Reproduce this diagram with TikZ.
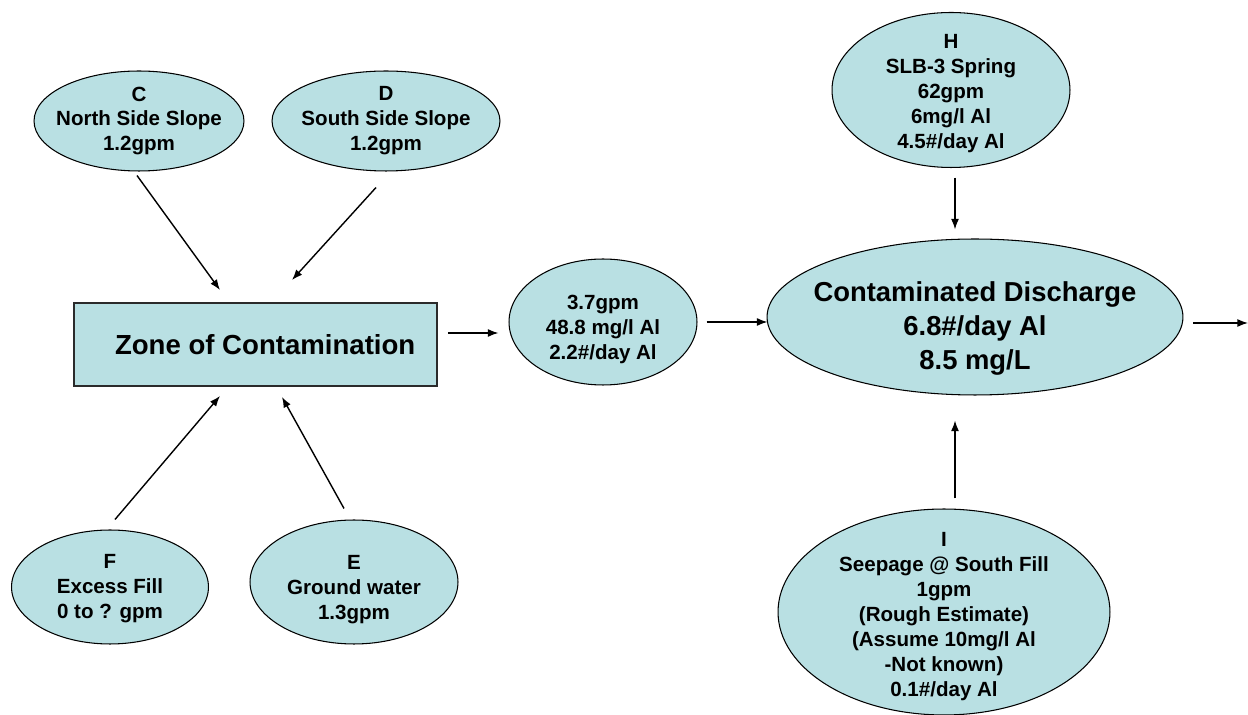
\documentclass[tikz,border=0pt]{standalone}
\usepackage{fontspec}
\setmainfont{Liberation Sans}
\usetikzlibrary{shapes.geometric,arrows.meta,calc}
\definecolor{poolBlue}{HTML}{B9E0E3}
\definecolor{edgeGray}{HTML}{2B2B2B}

\begin{document}
\begin{tikzpicture}[x=0.02cm, y=-0.02cm,
    src/.style={ellipse, draw, line width=0.6pt, fill=poolBlue, inner sep=-3cm,
                align=center, font=\bfseries\fontsize{11.7}{14.2}\selectfont},
    bigsrc/.style={src, font=\bfseries\fontsize{15.6}{19.2}\selectfont},
    zonebox/.style={rectangle, draw=edgeGray, line width=1.1pt, fill=poolBlue,
                    font=\bfseries\fontsize{15.7}{19}\selectfont},
    flow/.style={line width=0.8pt, -{Latex[length=6pt,width=4.5pt]}}]
    \useasboundingbox (0,0) rectangle (1248,715);
    \node[src, minimum width=4.2cm, minimum height=2cm] (C) at (139,121)
         {C\\North Side Slope\\1.2gpm};
    \node[src, minimum width=4.56cm, minimum height=2cm] (D) at (386,121)
         {D\\South Side Slope\\1.2gpm};
    \node[zonebox, minimum width=7.26cm, minimum height=1.66cm] (zone) at (255.5,344.5)
         {\hspace*{11pt}Zone of Contamination};
    \node[src, minimum width=3.94cm, minimum height=2.28cm] (F) at (110,587)
         {\rule{0pt}{10pt}F\\Excess Fill\\0 to ? gpm};
    \node[src, minimum width=4.16cm, minimum height=2.48cm] (E) at (354,582)
         {\rule{0pt}{16.4pt}E\\Ground water\\1.3gpm};
    \node[src, minimum width=3.76cm, minimum height=2.52cm] (mix) at (603,322)
         {\rule{0pt}{16.5pt}3.7gpm\\48.8 mg/l Al\\2.2\#/day Al};
    \node[bigsrc, minimum width=8.32cm, minimum height=3.12cm] (dis) at (975,317)
         {\rule{0pt}{24.5pt}Contaminated Discharge\\6.8\#/day Al\\8.5 mg/L};
    \node[src, minimum width=4.76cm, minimum height=3.1cm] (H) at (951,90)
         {\rule{0pt}{11.8pt}H\\SLB-3 Spring\\62gpm\\6mg/l Al\\4.5\#/day Al};
    \node[src, minimum width=6.64cm, minimum height=4.12cm] (I) at (944,612)
         {\rule{0pt}{13pt}I\\Seepage @ South Fill\\1gpm\\(Rough Estimate)\\(Assume 10mg/l Al\\-Not known)\\0.1\#/day Al};
    \coordinate (out) at (1248,323);
    \draw[flow] ($(C.south)+(-2,4)$) -- ($(zone.north)+(-35.5,-12)$);
    \draw[flow] ($(D.south)+(-10,16)$) -- ($(zone.north)+(36.5,-22)$);
    \draw[flow] ($(F.north)+(5,-10)$) -- ($(zone.south)+(-35.5,9)$);
    \draw[flow] ($(E.north)+(-10,-11)$) -- ($(zone.south)+(26.5,10)$);
    \draw[flow] ($(zone.east)+(10,-11.5)$) -- ($(mix.west)+(-10,11)$);
    \draw[flow] ($(mix.east)+(9,0)$) -- ($(dis.west)+(1,5)$);
    \draw[flow] ($(H.south)+(4,9.5)$) -- ($(dis.north)+(-20,-9)$);
    \draw[flow] ($(I.north)+(11,-10)$) -- ($(dis.south)+(-20,25)$);
    \draw[flow] ($(dis.east)+(10,6)$) -- (out);
\end{tikzpicture}
\end{document}
